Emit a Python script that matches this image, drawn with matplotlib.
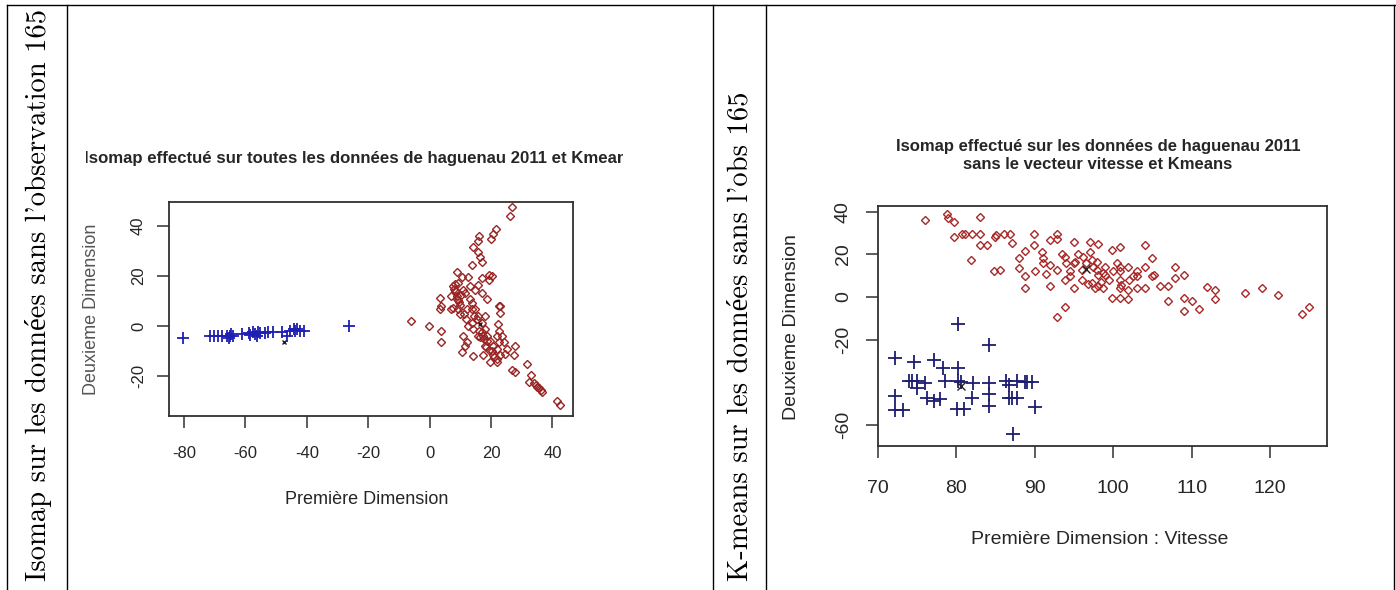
import numpy as np
import matplotlib
matplotlib.use("Agg")
import matplotlib.pyplot as plt
from matplotlib.lines import Line2D
from matplotlib.transforms import Bbox, TransformedBbox

plt.rcParams["axes.unicode_minus"] = False

# left plot: isomap on all data (blue cluster = crosses, red cluster = diamonds)
iso_blue_x = [-80.2, -71.5, -70.2, -68.8, -67.5, -66.1, -65.0, -65.3, -64.6, -63.9,
              -61.2, -59.0, -58.6, -57.4, -57.0, -56.3, -55.9, -55.2, -53.6, -52.5,
              -50.9, -48.2, -46.5, -45.4, -44.3, -43.8, -43.3, -42.2, -40.8, -26.4]
iso_blue_y = [-4.9, -3.8, -3.8, -3.8, -3.8, -3.8, -4.0, -4.8, -3.2, -3.8,
              -3.2, -2.8, -3.6, -2.5, -3.2, -3.8, -2.2, -2.8, -2.8, -2.5,
              -2.2, -2.2, -3.8, -1.8, -1.2, -2.0, -1.2, -1.8, -1.8, -0.1]
iso_red_x = [26.8, 26.1, 21.6, 20.8, 20.1, 16.1, 15.7, 14.0, 15.7, 16.4,
             17.0, 13.7, 8.8, 12.6, 10.4, 19.2, 20.3, 17.0, 19.2, 7.7,
             8.2, 8.8, 11.5, 13.2, 15.9, 18.6, 23.0, 23.0, 3.3, 3.8,
             3.3, 7.7, 9.3, 9.9, 12.1, 13.7, 14.8, 15.9, 17.0, 18.1,
             18.6, 19.7, -6.2, -0.3, 3.8, 3.8, 11.0, 12.1, 14.2, 10.4,
             11.5, 17.5, 20.8, 21.9, 22.5, 22.2, 22.5, 20.8, 21.9, 23.0,
             24.7, 25.2, 24.1, 23.6, 27.9, 26.8, 27.9, 31.8, 32.9, 32.3,
             34.0, 35.1, 36.2, 36.7, 41.4, 42.5, 17.0, 15.9, 18.1, 19.2,
             14.2, 12.6, 13.7, 7.1, 7.1, 9.3, 10.9, 14.8, 17.0, 13.7,
             15.3, 22.5, 18.1, 21.9, 19.7, 27.4, 8.0, 8.6, 9.0, 9.6,
             10.2, 16.5, 17.8, 18.8, 35.6, 34.5, 8.4, 9.2, 10.0, 11.2,
             12.0, 16.2, 17.4, 18.4, 20.2, 21.0, 22.0, 13.0, 14.4]
iso_red_y = [47.5, 43.8, 38.7, 36.7, 34.6, 35.9, 34.1, 31.4, 29.7, 27.8,
             25.8, 24.5, 21.8, 19.6, 19.6, 20.5, 19.9, 19.2, 18.3, 15.9,
             13.9, 12.0, 13.3, 15.9, 16.6, 10.7, 8.0, 5.4, 11.3, 8.0,
             6.7, 7.4, 6.7, 4.7, 6.7, 9.3, 6.7, 4.1, 1.4, -1.2,
             -3.8, -5.8, 2.1, -0.1, -1.8, -6.4, -3.8, -6.4, -12.0, -10.4,
             -7.8, -11.7, -7.8, -3.8, -1.8, 0.8, -6.4, -11.7, -14.3, -11.7,
             -11.1, -9.1, -6.4, -3.8, -7.8, -17.6, -18.3, -15.0, -19.6, -22.2,
             -22.9, -24.2, -25.5, -26.2, -30.1, -31.7, -2.5, -3.8, -7.8, -9.7,
             -1.2, 0.1, 1.4, 6.7, 12.0, 17.2, 14.6, 14.6, 13.3, 6.7,
             2.8, 8.0, 4.1, -9.1, -14.3, -11.7, 15.0, 14.0, 11.0, 9.5,
             12.5, -4.5, -5.2, -6.0, -24.8, -23.5, 17.0, 10.5, 8.5, 5.0,
             3.0, -2.0, -4.0, -8.5, -10.0, -12.5, -13.0, 11.0, 4.0]
iso_centers_x = [-47.4, 16.5]
iso_centers_y = [-6.2, 1.0]

# right plot: speed vs isomap dimension
km_blue_x = [72.2, 72.2, 72.2, 73.2, 74.7, 74.0, 74.4, 75.0, 75.0, 76.1,
             76.3, 77.2, 77.2, 78.0, 78.4, 78.6, 80.3, 80.3, 80.3, 80.1,
             81.0, 82.2, 82.0, 84.2, 84.2, 84.2, 84.2, 86.3, 86.7, 86.7,
             87.1, 87.8, 87.8, 87.3, 88.8, 89.1, 89.7, 90.1, 80.6]
km_blue_y = [-28.5, -46.5, -53.0, -53.0, -30.3, -39.2, -39.2, -39.2, -42.6, -40.3,
             -47.2, -29.5, -48.8, -48.0, -33.4, -39.5, -12.6, -33.4, -39.2, -52.6,
             -52.6, -40.3, -47.2, -22.6, -40.3, -45.7, -51.1, -39.2, -41.1, -47.2,
             -47.2, -47.2, -39.5, -64.2, -39.8, -39.8, -39.8, -51.8, -40.0]
km_red_x = [76.0, 78.9, 79.0, 79.8, 79.8, 80.8, 81.2, 82.0, 83.0, 83.0,
            83.0, 83.9, 81.9, 85.0, 85.1, 84.8, 85.6, 86.1, 86.9, 87.1,
            88.0, 88.0, 88.8, 88.8, 88.8, 89.9, 89.9, 90.9, 91.1, 91.1,
            92.0, 92.0, 92.9, 92.9, 92.9, 92.9, 93.9, 92.0, 93.9, 93.9,
            95.0, 95.0, 95.2, 95.0, 96.0, 97.1, 98.1, 97.3, 98.1, 98.1,
            99.0, 97.3, 96.2, 97.9, 97.9, 98.7, 98.7, 97.7, 99.8, 100.9,
            100.9, 100.9, 100.9, 100.9, 99.8, 100.9, 101.9, 101.9, 101.9, 103.0,
            103.0, 104.0, 104.0, 104.0, 105.0, 105.0, 105.2, 106.0, 107.0, 107.0,
            107.9, 107.9, 109.0, 109.0, 109.0, 110.0, 110.9, 111.9, 113.0, 113.0,
            116.8, 118.9, 121.0, 124.0, 125.0, 93.5, 94.0, 94.5, 95.5, 96.0,
            96.5, 97.0, 97.5, 99.5, 100.0, 100.5, 102.0, 103.0, 99.0, 91.5,
            90.0, 94.5, 96.8, 98.5, 101.0, 102.5]
km_red_y = [36.3, 38.9, 36.9, 35.1, 28.2, 29.7, 29.7, 29.7, 37.4, 29.7,
            24.3, 24.3, 17.4, 28.2, 29.0, 12.3, 12.8, 29.4, 29.4, 25.4,
            18.2, 13.5, 21.5, 9.7, 4.0, 29.7, 24.3, 21.2, 18.2, 15.8,
            15.1, 26.6, 29.7, 27.4, 12.8, -9.5, -4.9, 5.1, 18.9, 8.2,
            25.8, 15.8, 16.4, 4.3, 12.8, 25.8, 25.1, 6.6, 5.1, 10.5,
            10.5, 17.4, 18.9, 16.6, 12.8, 11.2, 4.3, 4.3, 22.0, 23.5,
            14.3, 12.0, 8.2, 4.3, -0.3, -0.3, 14.3, 3.5, -1.1, 9.7,
            4.3, 24.3, 14.3, 4.3, 18.2, 9.7, 10.3, 5.1, 5.1, -1.8,
            14.3, 8.9, 10.5, -0.3, -6.5, -1.8, -5.7, 4.8, 3.2, -1.1,
            1.7, 4.0, 0.9, -8.0, -4.9, 20.0, 16.0, 12.0, 20.0, 8.0,
            16.0, 21.0, 14.0, 8.0, 12.0, 16.0, 8.0, 12.0, 14.0, 11.0,
            12.0, 10.0, 6.0, 7.0, 5.5, 10.0]
km_centers_x = [80.6, 96.5]
km_centers_y = [-42.0, 13.2]

left_xticks = [-80, -60, -40, -20, 0, 20, 40]
left_yticks = [-20, 0, 20, 40]
right_xticks = [70, 80, 90, 100, 110, 120]
right_yticks = [-60, -20, 0, 20, 40]

W, H = 1396, 590
fig = plt.figure(figsize=(W / 100, H / 100), dpi=100)
fig.patch.set_facecolor("white")

def fx(px):
    return px / W

def fy(py):
    return 1 - py / H

def rect(l, t, r, b):
    return [fx(l), fy(b), (r - l) / W, (b - t) / H]

sans = "Liberation Sans"
serif = ["cmr10", "Liberation Serif"]
ink = "#262626"

def r_axes(ax, xticks, yticks, tick_fs, xpad, ypad):
    for s in ax.spines.values():
        s.set_linewidth(1.3)
        s.set_color("#303030")
    ax.set_xticks(xticks)
    ax.set_yticks(yticks)
    ax.tick_params(direction="out", length=8.5, width=1.1, color="#303030",
                   labelsize=tick_fs, labelcolor=ink)
    ax.tick_params(axis="x", pad=xpad)
    ax.tick_params(axis="y", pad=ypad, labelrotation=90)
    for lab in ax.get_yticklabels():
        lab.set_va("center")
    for lab in ax.get_xticklabels() + ax.get_yticklabels():
        lab.set_family(sans)

# ---- left plot ----
ax1 = fig.add_axes(rect(169, 202, 573, 416))
ax1.plot(iso_blue_x, iso_blue_y, "+", color="#1f1fb4", ms=8, mew=1.3)
ax1.plot(iso_red_x, iso_red_y, "D", mfc="none", mec="#9a2424", ms=4.4, mew=1.0)
ax1.plot(iso_centers_x, iso_centers_y, "x", color="#202020", ms=3, mew=1)
ax1.set_xlim(-84.9, 46.7)
ax1.set_ylim(-36.0, 49.6)
r_axes(ax1, left_xticks, left_yticks, 12, 13, 8)
ax1.set_xlabel("Première Dimension", family=sans, fontsize=13, color=ink, va="center")
ax1.xaxis.set_label_coords(0.49, -(500 - 416) / 214)
ax1.set_ylabel("Deuxieme Dimension", family=sans, fontsize=13, color="#555555", va="center")
ax1.yaxis.set_label_coords(-(169 - 91) / 404, 0.5)

# the pasted screenshot cuts this title on both sides
t1 = fig.text(fx(84), fy(158), "Isomap effectué sur toutes les données de haguenau 2011 et Kmeans",
              family=sans, fontsize=12.1, fontweight="bold", color=ink, ha="left", va="center")
clip = TransformedBbox(Bbox([[fx(86), fy(175)], [fx(623), fy(140)]]), fig.transFigure)
t1.set_clip_box(clip)
t1.set_clip_on(True)

# ---- right plot ----
ax2 = fig.add_axes(rect(877.5, 206, 1326.7, 445.5))
ax2.plot(km_blue_x, km_blue_y, "+", color="#1d1d70", ms=10.5, mew=1.3)
ax2.plot(km_red_x, km_red_y, "D", mfc="none", mec="#a82828", ms=4.4, mew=1.0)
ax2.plot(km_centers_x, km_centers_y, "x", color="#202020", ms=6, mew=1)
ax2.set_xlim(70.0, 127.2)
ax2.set_ylim(-69.7, 42.7)
r_axes(ax2, right_xticks, right_yticks, 14, 16, 10)
ax2.set_xlabel("Première Dimension : Vitesse", family=sans, fontsize=14, color=ink, va="center")
ax2.xaxis.set_label_coords((1100 - 877.5) / 449.2, -(540 - 445.5) / 239.5)
ax2.set_ylabel("Deuxieme Dimension", family=sans, fontsize=14, color=ink, va="center")
ax2.yaxis.set_label_coords(-(877.5 - 791) / 449.2, (445.5 - 327) / 239.5)

fig.text(fx(1098), fy(146), "Isomap effectué sur les données de haguenau 2011",
         family=sans, fontsize=12, fontweight="bold", color=ink, ha="center", va="center")
fig.text(fx(1098), fy(165), "sans le vecteur vitesse et Kmeans",
         family=sans, fontsize=12, fontweight="bold", color=ink, ha="center", va="center")

# ---- table frame and rotated LaTeX-style captions ----
for xv in [7, 67, 713, 766, 1394]:
    fig.add_artist(Line2D([fx(xv), fx(xv)], [fy(5), 0], color="black", lw=1.0))
fig.add_artist(Line2D([fx(7), fx(1396)], [fy(5), fy(5)], color="black", lw=1.0))

fig.text(fx(46), fy(581), "Isomap sur les données sans l'observation 165",
         family=serif, fontsize=20.6, rotation=90, rotation_mode="anchor",
         ha="left", va="baseline", color="black")
fig.text(fx(748), fy(581), "K-means sur les données sans l'obs 165",
         family=serif, fontsize=20.6, rotation=90, rotation_mode="anchor",
         ha="left", va="baseline", color="black")

fig.savefig("out.png", dpi=100)
